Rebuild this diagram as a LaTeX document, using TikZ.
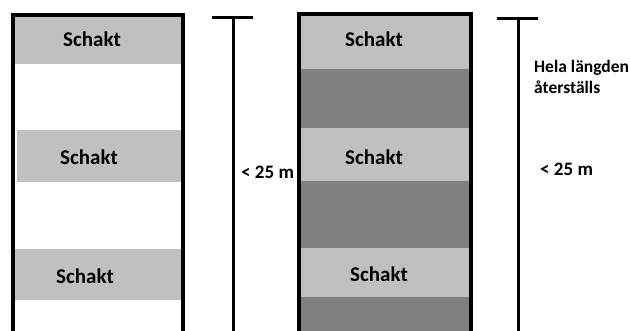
\documentclass[tikz,border=0pt]{standalone}
\usepackage{fontspec}
\setmainfont{Carlito}
\definecolor{lightg}{HTML}{C0C0C0}
\definecolor{darkg}{HTML}{808080}
\begin{document}
\begin{tikzpicture}[x=1pt,y=-1pt,
  lbl/.style={font=\fontsize{21}{24}\selectfont\bfseries, inner sep=0pt},
  side/.style={font=\fontsize{19}{23}\selectfont\bfseries, inner sep=0pt, anchor=west, align=left},
  note/.style={font=\fontsize{17.5}{21}\selectfont\bfseries, inner sep=0pt, anchor=west, align=left},
  frame/.style={line width=4pt},
  bar/.style={line width=3pt}]
\useasboundingbox (0,0) rectangle (630,331);
% left column
\fill[lightg] (15,17) rectangle (183,64);
\fill[lightg] (17,130) rectangle (183,182);
\fill[lightg] (15,249) rectangle (183,300);
\draw[frame] (13,335) -- (13,15) -- (183,15) -- (183,335);
\node[lbl] (s1) at (92,39) {Schakt};
\node[lbl] (s2) at (89,157) {Schakt};
\node[lbl] (s3) at (85,276) {Schakt};
% left dimension
\coordinate (lt1) at (212,18);
\coordinate (lt2) at (253,18);
\coordinate (ltop) at (233,18);
\coordinate (lbot) at (233,335);
\draw[bar] (lt1) -- (lt2);
\draw[bar] (ltop) -- (lbot);
\node[side] (l25) at (241,172) {< 25 m};
% right column
\fill[lightg] (299,15) rectangle (471,69);
\fill[darkg] (299,69) rectangle (471,128);
\fill[lightg] (299,128) rectangle (471,181);
\fill[darkg] (299,181) rectangle (471,248);
\fill[lightg] (299,248) rectangle (471,297);
\fill[darkg] (299,297) rectangle (471,335);
\draw[frame] (299,335) -- (299,14) -- (471,14) -- (471,335);
\node[lbl] (r1) at (374,39) {Schakt};
\node[lbl] (r2) at (374,157) {Schakt};
\node[lbl] (r3) at (379,274) {Schakt};
% right dimension
\coordinate (rt1) at (497,19);
\coordinate (rt2) at (538,19);
\coordinate (rtop) at (518,19);
\coordinate (rbot) at (518,335);
\draw[bar] (rt1) -- (rt2);
\draw[bar] (rtop) -- (rbot);
\node[note] (hela) at (534,77) {Hela längden\\återställs};
\node[side] (r25) at (540,169) {< 25 m};
\end{tikzpicture}
\end{document}
